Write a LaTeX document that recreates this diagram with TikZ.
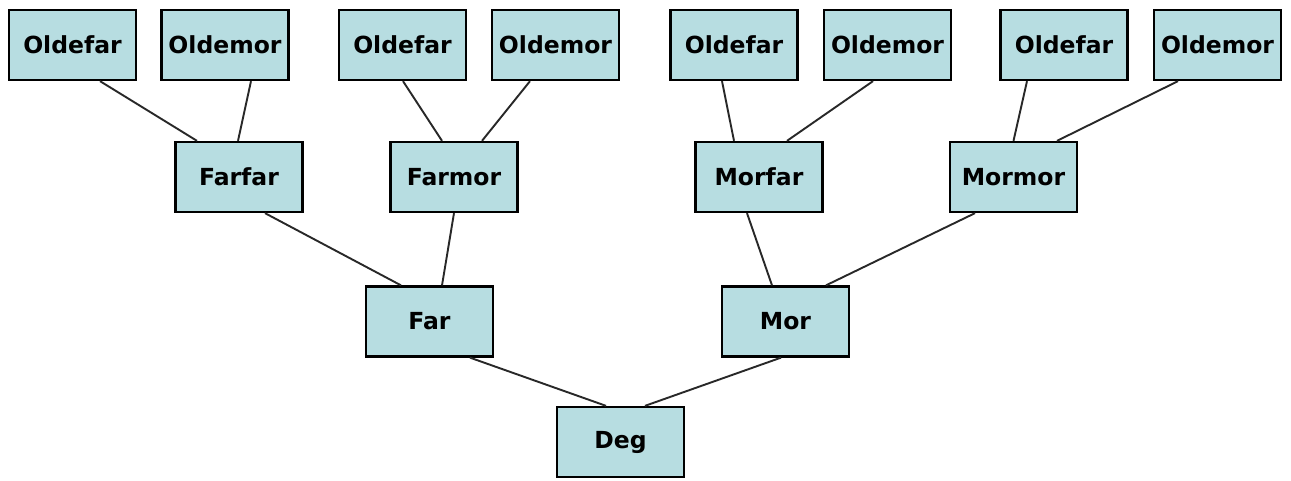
\documentclass[tikz,border=0pt]{standalone}
\usepackage{fontspec}
\setmainfont{DejaVu Sans}
\definecolor{boxfill}{RGB}{183,221,225}
\definecolor{linecol}{RGB}{40,40,40}
\begin{document}
\begin{tikzpicture}[x=1pt,y=-1pt,
  person/.style={draw=black, line width=2.3pt, fill=boxfill, minimum width=127pt, minimum height=70pt,
    inner sep=0pt, font=\fontsize{23.5}{23.5}\selectfont\bfseries},
  link/.style={draw=linecol, line width=1.9pt}]
\useasboundingbox[fill=white] (0,0) rectangle (1291,481);
% top row
\node[person] (o1) at (72.5,45) {Oldefar};
\node[person] (o2) at (225,45) {Oldemor};
\node[person] (o3) at (402.5,45) {Oldefar};
\node[person] (o4) at (555.5,45) {Oldemor};
\node[person] (o5) at (734,45) {Oldefar};
\node[person] (o6) at (887.5,45) {Oldemor};
\node[person] (o7) at (1064,45) {Oldefar};
\node[person] (o8) at (1217.5,45) {Oldemor};
% second row
\node[person] (ff) at (239,177) {Farfar};
\node[person] (fm) at (454,177) {Farmor};
\node[person] (mf) at (759,177) {Morfar};
\node[person] (mm) at (1013.5,177) {Mormor};
% third row
\node[person] (far) at (429.5,321.5) {Far};
\node[person] (mor) at (785.5,321.5) {Mor};
% bottom
\node[person] (deg) at (620.5,442) {Deg};
% connectors
\draw[link] ([xshift=27.5pt]o1.south) -- ([xshift=-42pt]ff.north);
\draw[link] ([xshift=26pt]o2.south) -- ([xshift=-1pt]ff.north);
\draw[link] ([xshift=0.5pt]o3.south) -- ([xshift=-12pt]fm.north);
\draw[link] ([xshift=-25.5pt]o4.south) -- ([xshift=28pt]fm.north);
\draw[link] ([xshift=-12pt]o5.south) -- ([xshift=-25pt]mf.north);
\draw[link] ([xshift=-14.5pt]o6.south) -- ([xshift=28pt]mf.north);
\draw[link] ([xshift=-37pt]o7.south) -- ([xshift=0pt]mm.north);
\draw[link] ([xshift=-39.5pt]o8.south) -- ([xshift=43.5pt]mm.north);
\draw[link] ([xshift=26pt]ff.south) -- ([xshift=-28.5pt]far.north);
\draw[link] ([xshift=0pt]fm.south) -- ([xshift=12.5pt]far.north);
\draw[link] ([xshift=-12pt]mf.south) -- ([xshift=-13.5pt]mor.north);
\draw[link] ([xshift=-38.5pt]mm.south) -- ([xshift=40.5pt]mor.north);
\draw[link] ([xshift=40.5pt]far.south) -- ([xshift=-14.5pt]deg.north);
\draw[link] ([xshift=-4.5pt]mor.south) -- ([xshift=24.5pt]deg.north);
\end{tikzpicture}
\end{document}
